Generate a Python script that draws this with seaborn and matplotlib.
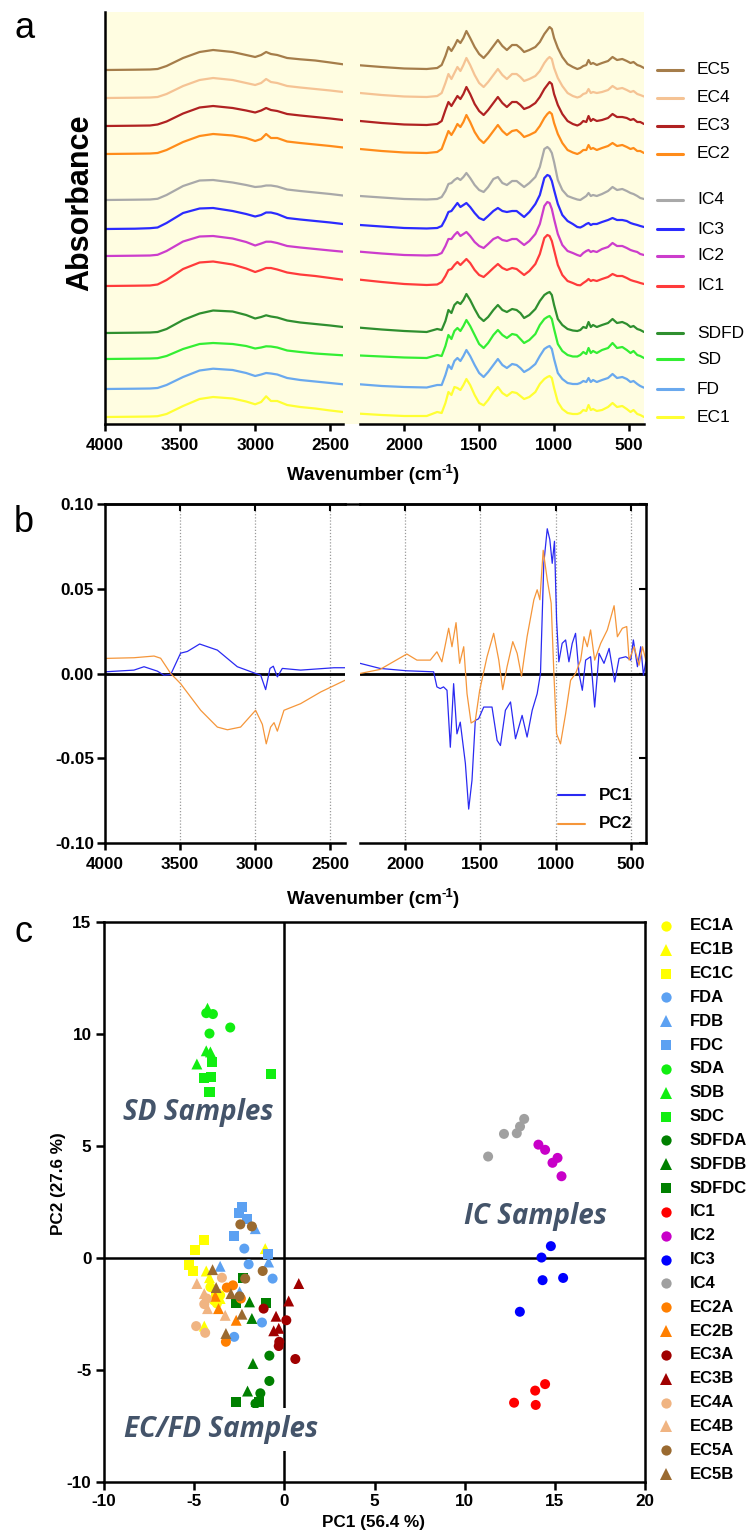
import numpy as np
import matplotlib
matplotlib.use("Agg")
import matplotlib.pyplot as plt
import seaborn as sns
from matplotlib.patches import Rectangle
from matplotlib.lines import Line2D

sns.set_theme(style="ticks")
plt.rcParams["font.family"] = ["Liberation Sans", "DejaVu Sans"]
plt.rcParams["text.color"] = "black"
plt.rcParams["axes.edgecolor"] = "black"
plt.rcParams["xtick.color"] = "black"
plt.rcParams["ytick.color"] = "black"

# ------------------------------------------------------------------
# (a) FTIR spectra, absorbance (a.u.) on the two wavenumber windows
# ------------------------------------------------------------------
WN_HI = [4000, 3800, 3700, 3650, 3590, 3480, 3370, 3280, 3150, 3060, 3000, 2960,
         2927, 2895, 2853, 2787, 2700, 2600, 2500, 2415]
WN_LO = [2295, 2150, 2000, 1850, 1780, 1750, 1725, 1705, 1685, 1665, 1645, 1625,
         1605, 1585, 1560, 1530, 1500, 1470, 1440, 1405, 1375, 1345, 1315, 1280,
         1250, 1225, 1200, 1165, 1125, 1095, 1065, 1045, 1030, 1015, 1000, 975,
         945, 910, 875, 845, 825, 805, 785, 770, 755, 740, 715, 680, 640, 610,
         580, 545, 515, 490, 470, 445, 425, 400]

EC5_HI = [0, 0.3, 0.5, 1, 4, 12, 18, 20, 18, 15, 13, 15, 18, 16, 15, 12, 10.7, 9.5, 7.5, 5.7]
EC4_HI = [0, 0.3, 0.5, 1, 4, 12, 18, 20, 18, 15, 13, 15, 19, 16, 15, 12, 10.5, 9, 7.5, 6]
EC3_HI = [0, 0.3, 0.5, 1.5, 4.5, 12.5, 18.5, 20, 18, 15.5, 13.5, 15.5, 18, 16, 15, 12, 10.5, 9, 7.5, 6]
EC2_HI = [0, 0.3, 0.5, 1, 4, 12, 18, 20, 18.5, 16, 13, 15, 20, 16, 16, 12.5, 11, 9.5, 8, 6.5]
IC4_HI = [0, 0.3, 0.5, 1.2, 5, 14, 19.5, 20, 17.5, 15, 13, 13.5, 14.5, 14.5, 13.5, 10.5, 9, 7.5, 6, 4.5]
IC3_HI = [0, 0.3, 0.8, 1.5, 6, 16, 20.5, 21, 18, 15, 12.5, 14, 16.5, 16.5, 15, 11, 9.5, 8, 6.5, 5]
IC2_HI = [0, 0.3, 0.5, 1.2, 5, 14.5, 19.5, 20, 17.5, 14, 10.5, 12.5, 14.3, 14.3, 13, 10, 8.5, 7, 5.5, 4.3]
IC1_HI = [0, 0.3, 0.5, 1.5, 6, 17, 23.5, 24.5, 21.5, 17.5, 14, 16, 18, 18, 16.5, 13.5, 11.5, 10, 8, 6.3]
SDFD_HI = [0, 0.3, 0.5, 1, 4, 13, 19.5, 22.5, 21.5, 18, 14.5, 16, 17.7, 16.5, 15.5, 12.5, 10.5, 9, 7.5, 6]
SD_HI = [0, 0.3, 0.5, 0.8, 3, 10, 15, 16, 15, 13, 10.5, 11.5, 12.7, 12.5, 11.5, 8.5, 7, 5.5, 4.5, 3.7]
FD_HI = [0, 0.3, 0.5, 1, 4, 12, 18.5, 20.3, 19, 16, 13, 14.5, 16, 15.5, 14.5, 11, 9, 7.5, 6, 4.7]
EC1_HI = [0, 0.3, 0.5, 0.8, 3, 11, 18, 20, 18.5, 15.5, 12.7, 15, 20.7, 16, 16, 12, 10, 8.5, 6.5, 5]

EC5_LO = [4.7, 3, 1.5, 1, 2, 5, 14, 23, 19, 24, 30, 27, 32, 39, 32, 23, 16, 12, 17, 24, 30, 24, 20, 25, 25, 22, 18, 20, 23, 28,
          36, 40, 43, 41, 32, 22, 13, 6, 3, 1, 2, 4, 5, 10, 6, 7, 5, 7, 9, 13, 10, 11, 9, 7, 8, 5, 4, 2]
EC4_LO = [5, 3, 1.5, 1, 2, 5, 15, 24, 19, 25, 31, 27, 33, 40, 33, 23, 15, 11, 16, 23, 29, 23, 19, 24, 24, 21, 17, 19, 22, 27,
          35, 39, 41, 39, 30, 20, 12, 5, 2, 0.5, 1.5, 4, 5, 9, 5, 6, 5, 6, 8, 12, 9, 10, 8, 6, 7, 4, 3, 1.5]
EC3_LO = [5, 3, 1.5, 1, 2, 5, 16, 24, 20, 25, 30, 27, 32, 39, 32, 22, 15, 11, 16, 23, 29, 23, 19, 24, 24, 21, 17, 19, 23, 29,
          37, 41, 44, 42, 32, 21, 12, 5, 2, 0.5, 2, 5, 4, 10, 5, 7, 5, 6, 8, 12, 9, 9, 8, 6, 7, 4, 4, 2]
EC2_LO = [5, 3, 1.5, 1, 2, 5, 15, 23, 19, 24, 30, 27, 32, 39, 32, 22, 15, 11, 16, 23, 29, 23, 19, 23, 24, 21, 17, 19, 22, 28,
          36, 40, 42, 40, 31, 20, 11, 4, 1.5, 0, 1.5, 4, 4, 9, 5, 6, 4, 6, 8, 11, 8, 9, 7, 5, 6, 3, 3, 1]
IC4_LO = [4, 2.5, 1, 0.5, 1, 3, 9, 16, 17, 20, 22, 20, 23, 27, 22, 15, 10, 8, 13, 21, 23, 17, 15, 19, 19, 16, 13, 17, 23, 33,
          51, 53, 51, 47, 38, 20, 10, 4, 2, 0.5, 0, 2, 4, 7, 4, 5, 4, 6, 9, 13, 10, 11, 9, 7, 6, 4, 2, 1]
IC3_LO = [4, 2.5, 1, 0.5, 1, 3, 10, 17, 18, 22, 26, 22, 24, 26, 22, 16, 11, 9, 13, 18, 21, 18, 17, 18, 18, 15, 12, 17, 25, 34,
          51, 54, 53, 48, 39, 25, 14, 8, 5, 2, 1.5, 3, 5, 6, 4, 5, 5, 7, 9, 11, 9, 9, 8, 6, 5, 4, 3, 2]
IC2_LO = [4.3, 2.5, 1, 0.5, 1, 3, 10, 17, 17, 21, 24, 20, 22, 24, 20, 14, 10, 8, 12, 17, 19, 16, 15, 17, 17, 14, 11, 15, 22, 32,
          50, 54, 53, 47, 37, 22, 11, 5, 3, 1, 0, 3, 5, 6, 4, 5, 4, 7, 9, 13, 10, 10, 8, 6, 5, 4, 2, 1]
IC1_LO = [6.3, 4, 2, 1, 1.5, 4, 10, 16, 17, 21, 24, 21, 24, 27, 23, 16, 11, 9, 13, 18, 22, 18, 16, 18, 17, 14, 11, 15, 22, 32,
          48, 51, 50, 45, 36, 21, 11, 5, 3, 1, 0.7, 3, 5, 7, 5, 6, 5, 7, 9, 12, 10, 10, 8, 6, 5, 4, 3, 2]
SDFD_LO = [5.3, 3.5, 2, 1, 4, 3, 12, 23, 20, 28, 31, 29, 33, 39, 33, 24, 16, 12, 16, 23, 28, 23, 21, 24, 23, 20, 15, 18, 24, 32,
           38, 40, 41, 38, 28, 14, 8, 4, 2.5, 2, 3, 6, 5, 11, 6, 8, 6, 8, 10, 14, 10, 11, 9, 6, 7, 4, 3, 1]
SD_LO = [3.5, 2.5, 1.5, 1, 4, 3, 13, 24, 20, 28, 31, 28, 33, 39, 33, 24, 15, 11, 16, 24, 29, 24, 21, 25, 24, 20, 16, 19, 25, 34,
         40, 42, 43, 40, 30, 15, 8, 4, 2.5, 2.5, 4, 7, 5, 11, 6, 8, 6, 9, 11, 16, 11, 12, 9, 6, 8, 4, 3, 1]
FD_LO = [4.7, 3, 2, 1.5, 4, 4, 14, 24, 20, 28, 31, 28, 33, 39, 33, 24, 16, 12, 17, 24, 30, 24, 21, 25, 24, 21, 17, 20, 25, 33,
         40, 42, 43, 40, 30, 16, 10, 6, 5, 5, 6, 8, 7, 11, 7, 9, 7, 9, 11, 15, 11, 12, 10, 7, 8, 5, 3, 1.3]
EC1_LO = [3.3, 2, 1, 1, 5, 4, 14, 25, 22, 30, 29, 27, 32, 38, 32, 22, 14, 11.7, 17, 25, 30, 24, 21, 25, 24, 21, 18, 20, 25, 33,
          38, 40, 41, 39, 29, 15, 8, 4, 3, 3, 4, 7, 6, 12, 7, 8, 6, 7, 10, 14, 10, 11, 8, 5, 7, 3, 2, 0]

SPECTRA = ["EC5", "EC4", "EC3", "EC2", "IC4", "IC3", "IC2", "IC1", "SDFD", "SD", "FD", "EC1"]
SPEC_HI = [EC5_HI, EC4_HI, EC3_HI, EC2_HI, IC4_HI, IC3_HI, IC2_HI, IC1_HI, SDFD_HI, SD_HI, FD_HI, EC1_HI]
SPEC_LO = [EC5_LO, EC4_LO, EC3_LO, EC2_LO, IC4_LO, IC3_LO, IC2_LO, IC1_LO, SDFD_LO, SD_LO, FD_LO, EC1_LO]
SPEC_COLORS = ["#a57d4a", "#f5c394", "#b02222", "#ff8c1a", "#a9a9a9", "#2b2bff",
               "#cc3dcc", "#ff3b3b", "#2f8f2f", "#33ee33", "#6aa9ee", "#ffff33"]
# vertical stacking of the traces (axis units)
STACK = [354, 326, 298, 270, 224, 195, 168, 138, 91, 65, 35, 7]

# ------------------------------------------------------------------
# (b) PCA loadings
# ------------------------------------------------------------------
PC1_HI_WN = [4000, 3807, 3740, 3651, 3607, 3562, 3496, 3451, 3369, 3251, 3118, 3007, 2962,
             2929, 2900, 2878, 2851, 2818, 2696, 2473, 2400]
PC1_HI = [0.001, 0.002, 0.004, 0.0014, -0.001, -0.0006, 0.012, 0.013, 0.0174, 0.0138, 0.004,
          0.0004, -0.001, -0.0095, 0.003, 0.0043, -0.002, 0.003, 0.002, 0.0034, 0.0034]
PC2_HI_WN = [4000, 3807, 3673, 3629, 3562, 3496, 3362, 3251, 3184, 3096, 2996, 2951, 2925,
             2896, 2873, 2851, 2807, 2696, 2562, 2400]
PC2_HI = [0.0089, 0.0093, 0.0103, 0.009, 0.0, -0.006, -0.0217, -0.0316, -0.0332, -0.0316,
          -0.0217, -0.030, -0.0415, -0.0316, -0.029, -0.034, -0.0217, -0.0178, -0.0109, -0.004]
PC1_LO_WN = [2300, 2167, 1989, 1811, 1789, 1767, 1745, 1722, 1700, 1678, 1656, 1634, 1600,
             1578, 1556, 1534, 1512, 1478, 1423, 1389, 1367, 1334, 1300, 1267, 1223, 1190,
             1156, 1123, 1101, 1079, 1056, 1039, 1023, 1008, 994, 979, 957, 934, 912, 890,
             868, 845, 823, 801, 768, 741, 712, 679, 645, 608, 579, 534, 501, 484, 457, 435,
             417, 401]
PC1_LO = [0.006, 0.003, 0.0016, 0.001, -0.0079, -0.0089, -0.0079, -0.0099, -0.0435, -0.006,
          -0.0356, -0.0287, -0.053, -0.080, -0.063, -0.0277, -0.0267, -0.0198, -0.0198,
          -0.0395, -0.0425, -0.0217, -0.0168, -0.0385, -0.0247, -0.0375, -0.0217, -0.0119,
          0.0, 0.065, 0.0854, 0.079, 0.065, 0.078, 0.0316, 0.0069, 0.0178, 0.0198, 0.0069,
          0.0178, 0.0237, 0.0, -0.0099, 0.0079, 0.0099, -0.0198, 0.0119, 0.006, 0.0148,
          -0.005, 0.0089, 0.0099, 0.0079, 0.0198, 0.004, 0.0158, -0.001, 0.0069]
PC2_LO_WN = [2300, 2167, 1989, 1922, 1833, 1789, 1756, 1711, 1689, 1662, 1638, 1611, 1589,
             1562, 1534, 1505, 1456, 1412, 1378, 1352, 1323, 1285, 1256, 1227, 1190, 1145,
             1123, 1105, 1083, 1056, 1030, 1012, 994, 968, 934, 901, 868, 834, 812, 790,
             768, 741, 701, 657, 612, 590, 557, 528, 512, 479, 446, 423, 401]
PC2_LO = [0.0, 0.0024, 0.0115, 0.0079, 0.0079, 0.0128, 0.0069, 0.0267, 0.0158, 0.030, 0.006,
          0.0158, -0.0119, -0.0292, -0.0277, -0.0099, 0.0099, 0.0237, 0.0079, -0.0095, 0.004,
          0.0188, 0.0119, -0.0016, 0.0217, 0.0435, 0.0494, 0.0435, 0.0727, 0.0553, 0.0415,
          0.0, -0.0356, -0.0415, -0.0237, -0.004, 0.0, 0.0079, 0.0217, 0.0158, 0.0257,
          0.0079, 0.0178, 0.0257, 0.040, 0.0217, 0.0267, 0.0277, 0.0079, 0.0158, 0.0049,
          0.0158, 0.0079]
PC1_COLOR = "#2a2af2"
PC2_COLOR = "#f5963a"

# ------------------------------------------------------------------
# (c) PCA scores (PC1, PC2)
# ------------------------------------------------------------------
EC1A = [(-3.74, -2.03), (-3.56, -1.66), (-4.10, -1.30), (-3.90, -1.90)]
EC1B = [(-1.06, 0.42), (-4.33, -0.58), (-4.15, -0.88), (-3.56, -1.81), (-4.44, -3.04)]
EC1C = [(-4.44, 0.82), (-4.98, 0.34), (-5.26, -0.33), (-5.04, -0.58), (-3.80, -1.60)]
FDA = [(-2.22, 0.42), (-1.98, -0.28), (-0.65, -0.92), (-1.24, -2.88), (-2.78, -3.52)]
FDB = [(-1.61, 1.31), (-0.87, -0.18), (-3.56, -0.37), (-2.48, -1.51)]
FDC = [(-2.35, 2.27), (-2.54, 2.02), (-2.07, 1.75), (-2.78, 0.97), (-0.93, 0.16)]
SDA = [(-4.33, 10.93), (-3.96, 10.89), (-4.15, 10.02), (-3.00, 10.29)]
SDB = [(-4.26, 11.15), (-4.33, 9.25), (-4.10, 9.20), (-4.85, 8.66)]
SDC = [(-4.02, 8.75), (-4.43, 8.03), (-4.06, 8.06), (-4.15, 7.39), (-0.72, 8.21)]
SDFDA = [(-0.83, -4.36), (-0.83, -5.49), (-1.33, -6.04), (-1.60, -6.50)]
SDFDB = [(-1.93, -1.96), (-1.80, -2.70), (-1.74, -4.71), (-2.04, -5.94), (-1.56, -6.41)]
SDFDC = [(-2.30, -0.88), (-1.00, -2.03), (-2.67, -2.01), (-2.67, -6.41), (-1.43, -6.41)]
IC1 = [(14.46, -5.63), (13.91, -5.92), (12.74, -6.46), (13.94, -6.56)]
IC2 = [(14.09, 5.06), (14.46, 4.83), (15.15, 4.47), (14.87, 4.25), (15.37, 3.65)]
IC3 = [(14.78, 0.53), (14.26, 0.02), (15.46, -0.89), (14.32, -0.99), (13.06, -2.40)]
IC4 = [(13.30, 6.21), (13.07, 5.87), (12.89, 5.57), (12.18, 5.54), (11.30, 4.53)]
EC2A = [(-3.19, -1.32), (-2.85, -1.22), (-2.41, -1.81), (-3.24, -3.74)]
EC2B = [(-3.65, -2.26), (-2.67, -2.78), (-3.83, -1.71)]
EC3A = [(-1.15, -2.26), (0.11, -2.78), (-0.28, -3.74), (-0.31, -3.93), (0.61, -4.51)]
EC3B = [(0.80, -1.14), (0.24, -1.92), (-0.46, -2.60), (-0.59, -3.25), (-0.31, -3.14)]
EC4A = [(-3.46, -0.88), (-4.30, -1.81), (-4.44, -2.06), (-4.89, -3.04), (-4.39, -3.34)]
EC4B = [(-4.85, -1.14), (-4.44, -1.59), (-4.26, -2.26), (-3.28, -2.56)]
EC5A = [(-2.44, 1.50), (-1.80, 1.41), (-1.20, -0.58), (-2.17, -0.92), (-2.48, -1.71)]
EC5B = [(-3.98, -0.52), (-3.78, -1.32), (-2.96, -1.59), (-2.35, -2.51), (-3.24, -3.37)]

GROUPS = ["EC1A", "EC1B", "EC1C", "FDA", "FDB", "FDC", "SDA", "SDB", "SDC",
          "SDFDA", "SDFDB", "SDFDC", "IC1", "IC2", "IC3", "IC4",
          "EC2A", "EC2B", "EC3A", "EC3B", "EC4A", "EC4B", "EC5A", "EC5B"]
SCORES = [EC1A, EC1B, EC1C, FDA, FDB, FDC, SDA, SDB, SDC, SDFDA, SDFDB, SDFDC,
          IC1, IC2, IC3, IC4, EC2A, EC2B, EC3A, EC3B, EC4A, EC4B, EC5A, EC5B]
C_EC1, C_FD, C_SD, C_SDFD = "#ffff00", "#5ca1f2", "#11ee11", "#008000"
C_EC2, C_EC3, C_EC4, C_EC5 = "#ff7f00", "#a00000", "#f0b482", "#9a6a30"
GROUP_COLORS = [C_EC1] * 3 + [C_FD] * 3 + [C_SD] * 3 + [C_SDFD] * 3 + \
               ["#ff0000", "#c800c8", "#0000ff", "#a0a0a0"] + \
               [C_EC2] * 2 + [C_EC3] * 2 + [C_EC4] * 2 + [C_EC5] * 2
GROUP_MARKERS = ["o", "^", "s"] * 4 + ["o"] * 4 + ["o", "^"] * 4

# ------------------------------------------------------------------
W, H = 752, 1532
fig = plt.figure(figsize=(W / 100, H / 100), dpi=100)


def rect(x0, y0, x1, y1):
    return [x0 / W, 1 - y1 / H, (x1 - x0) / W, (y1 - y0) / H]


BOLD_TICK = dict(fontsize=12.3, fontweight="bold")
SPINE_W = 1.8

# ---------------- panel a ----------------
fig.add_artist(Rectangle((105 / W, 1 - 424 / H), (644 - 105) / W, (424 - 12) / H,
                         transform=fig.transFigure, facecolor="#fffde1",
                         edgecolor="none", zorder=-5))
aL = fig.add_axes(rect(105, 12, 343, 424))
aR = fig.add_axes(rect(360, 12, 644, 424))
for ax in (aL, aR):
    ax.patch.set_alpha(0)
    ax.set_ylim(0, 412)
    ax.set_yticks([])
    for s in ("top", "right", "left"):
        ax.spines[s].set_visible(False)
    ax.spines["bottom"].set_linewidth(SPINE_W)
    ax.tick_params(axis="x", direction="out", length=5, width=SPINE_W, pad=5, bottom=True)
aL.spines["left"].set_visible(True)
aL.spines["left"].set_linewidth(SPINE_W)
aL.set_xlim(4000, 2415)
aR.set_xlim(2295, 400)
aL.set_xticks([4000, 3500, 3000, 2500], labels=["4000", "3500", "3000", "2500"], **BOLD_TICK)
aR.set_xticks([2000, 1500, 1000, 500], labels=["2000", "1500", "1000", "500"], **BOLD_TICK)

for name, hi, lo, col, off in zip(SPECTRA, SPEC_HI, SPEC_LO, SPEC_COLORS, STACK):
    sns.lineplot(x=WN_HI, y=np.array(hi) + off, ax=aL, color=col, linewidth=1.6,
                 sort=False, estimator=None)
    sns.lineplot(x=WN_LO, y=np.array(lo) + off, ax=aR, color=col, linewidth=1.6,
                 sort=False, estimator=None)
for ax in (aL, aR):
    ax.set_xlabel("")
    ax.set_ylabel("")

# ---------------- panel b ----------------
bL = fig.add_axes(rect(105, 504, 345, 843))
bR = fig.add_axes(rect(360, 504, 646, 843))
for ax in (bL, bR):
    ax.patch.set_alpha(0)
    ax.set_ylim(-0.10, 0.10)
    for s in ax.spines.values():
        s.set_linewidth(SPINE_W)
    ax.axhline(0, color="black", linewidth=2.0, zorder=1)
    ax.tick_params(axis="x", direction="out", length=5, width=SPINE_W, pad=5, bottom=True)
bL.spines["right"].set_visible(False)
bR.spines["left"].set_visible(False)
bL.set_xlim(4000, 2400)
bR.set_xlim(2300, 400)
bL.set_xticks([4000, 3500, 3000, 2500], labels=["4000", "3500", "3000", "2500"], **BOLD_TICK)
bR.set_xticks([2000, 1500, 1000, 500], labels=["2000", "1500", "1000", "500"], **BOLD_TICK)
bL.set_yticks([-0.10, -0.05, 0.0, 0.05, 0.10],
              labels=["-0.10", "-0.05", "0.00", "0.05", "0.10"], **BOLD_TICK)
bL.tick_params(axis="y", direction="out", length=6, width=SPINE_W, pad=2, left=True)
bR.yaxis.tick_right()
bR.set_yticks([-0.10, -0.05, 0.0, 0.05, 0.10])
bR.tick_params(axis="y", direction="in", length=5, width=1.5, labelright=False, right=True)
for ax, ticks in ((bL, [3500, 3000, 2500]), (bR, [2000, 1500, 1000, 500])):
    for t in ticks:
        ax.axvline(t, color="#9a9a9a", linestyle=(0, (1, 1.5)), linewidth=0.9, zorder=0)
    sec = ax.secondary_xaxis("top")
    sec.set_xticks(ticks)
    sec.tick_params(direction="in", length=5, width=1.5, labeltop=False)
    sec.spines["top"].set_linewidth(SPINE_W)

sns.lineplot(x=PC1_HI_WN, y=PC1_HI, ax=bL, color=PC1_COLOR, linewidth=0.9, sort=False, estimator=None)
sns.lineplot(x=PC2_HI_WN, y=PC2_HI, ax=bL, color=PC2_COLOR, linewidth=0.9, sort=False, estimator=None)
sns.lineplot(x=PC1_LO_WN, y=PC1_LO, ax=bR, color=PC1_COLOR, linewidth=0.9, sort=False, estimator=None)
sns.lineplot(x=PC2_LO_WN, y=PC2_LO, ax=bR, color=PC2_COLOR, linewidth=0.9, sort=False, estimator=None)
for ax in (bL, bR):
    ax.set_xlabel("")
    ax.set_ylabel("")

# ---------------- panel c ----------------
c = fig.add_axes(rect(104, 922, 645, 1482))
c.set_xlim(-10, 20)
c.set_ylim(-10, 15)
for s in c.spines.values():
    s.set_linewidth(SPINE_W)
c.axhline(0, color="black", linewidth=1.8, zorder=1)
c.axvline(0, color="black", linewidth=1.8, zorder=1)
c.set_xticks([-10, -5, 0, 5, 10, 15, 20],
             labels=["-10", "-5", "0", "5", "10", "15", "20"], **BOLD_TICK)
c.set_yticks([-10, -5, 0, 5, 10, 15],
             labels=["-10", "-5", "0", "5", "10", "15"], **BOLD_TICK)
c.tick_params(direction="out", length=6, width=SPINE_W, pad=3, left=True, bottom=True)

for name, pts, col, mk in zip(GROUPS, SCORES, GROUP_COLORS, GROUP_MARKERS):
    xs = [p[0] for p in pts]
    ys = [p[1] for p in pts]
    size = 62 if mk == "^" else 52
    sns.scatterplot(x=xs, y=ys, ax=c, color=col, marker=mk, s=size,
                    edgecolor="none", linewidth=0, zorder=3)
c.set_xlabel("")
c.set_ylabel("")

label_style = dict(fontsize=20, style="italic", fontweight="bold", color="#44546a",
                   family=["Open Sans", "DejaVu Sans"], ha="center", va="center", zorder=6)
c.text(-4.75, 6.5, "SD Samples", **label_style)
c.text(13.9, 1.85, "IC Samples", **label_style)
c.text(-3.5, -7.65, "EC/FD Samples", **label_style,
       bbox=dict(boxstyle="square,pad=0.25", facecolor="white", edgecolor="none"))

# ---------------- annotations / legends ----------------
ov = fig.add_axes([0, 0, 1, 1], zorder=20)
ov.set_xlim(0, W)
ov.set_ylim(H, 0)
ov.axis("off")
renderer = fig.canvas.get_renderer()

for letter, y in (("a", 38), ("b", 532), ("c", 942)):
    ov.text(14, y, letter, fontsize=26, ha="left", va="baseline")

ov.text(80, 203, "Absorbance", fontsize=22, fontweight="bold", rotation=90,
        ha="center", va="center")


def wavenumber_label(cx, cy):
    # "Wavenumber (cm" + raised "-1" + ")", centred on cx
    parts = [("Wavenumber (cm", 13.5, 0), ("-1", 9.5, -6), (")", 13.5, 0)]
    texts = [ov.text(0, cy + dy, s, fontsize=fs, fontweight="bold", ha="left", va="center")
             for s, fs, dy in parts]
    widths = [t.get_window_extent(renderer).width for t in texts]
    x = cx - sum(widths) / 2
    for t, w in zip(texts, widths):
        t.set_x(x)
        x += w


wavenumber_label(373, 476)
wavenumber_label(373, 900)
ov.text(373, 1522, "PC1 (56.4 %)", fontsize=12.3, fontweight="bold", ha="center", va="center")
ov.text(58, 1184, "PC2 (27.6 %)", fontsize=12.3, fontweight="bold", rotation=90,
        ha="center", va="center")

# continuous top frame of panel b across the break
ov.add_line(Line2D([345, 360], [504, 504], color="black", linewidth=SPINE_W))

# legend, panel a
for name, col, off in zip(SPECTRA, SPEC_COLORS, STACK):
    y = 424 - off
    ov.add_line(Line2D([657, 683], [y, y], color=col, linewidth=2.2))
    ov.text(697, y, name, fontsize=12.5, ha="left", va="center")

# legend, panel b
for (name, col), y in zip((("PC1", PC1_COLOR), ("PC2", PC2_COLOR)), (795, 824)):
    ov.add_line(Line2D([558, 585], [y, y], color=col, linewidth=1.5))
    ov.text(599, y, name, fontsize=12.3, fontweight="bold", ha="left", va="center")

# legend, panel c
for i, (name, col, mk) in enumerate(zip(GROUPS, GROUP_COLORS, GROUP_MARKERS)):
    y = 926 + i * 23.83
    ms = 8.2 if mk == "^" else 7.4
    ov.add_line(Line2D([666], [y], marker=mk, markersize=ms, color=col,
                       markeredgewidth=0, linestyle="none"))
    ov.text(690, y, name, fontsize=12, fontweight="bold", ha="left", va="center")

fig.savefig("out.png", dpi=100)
